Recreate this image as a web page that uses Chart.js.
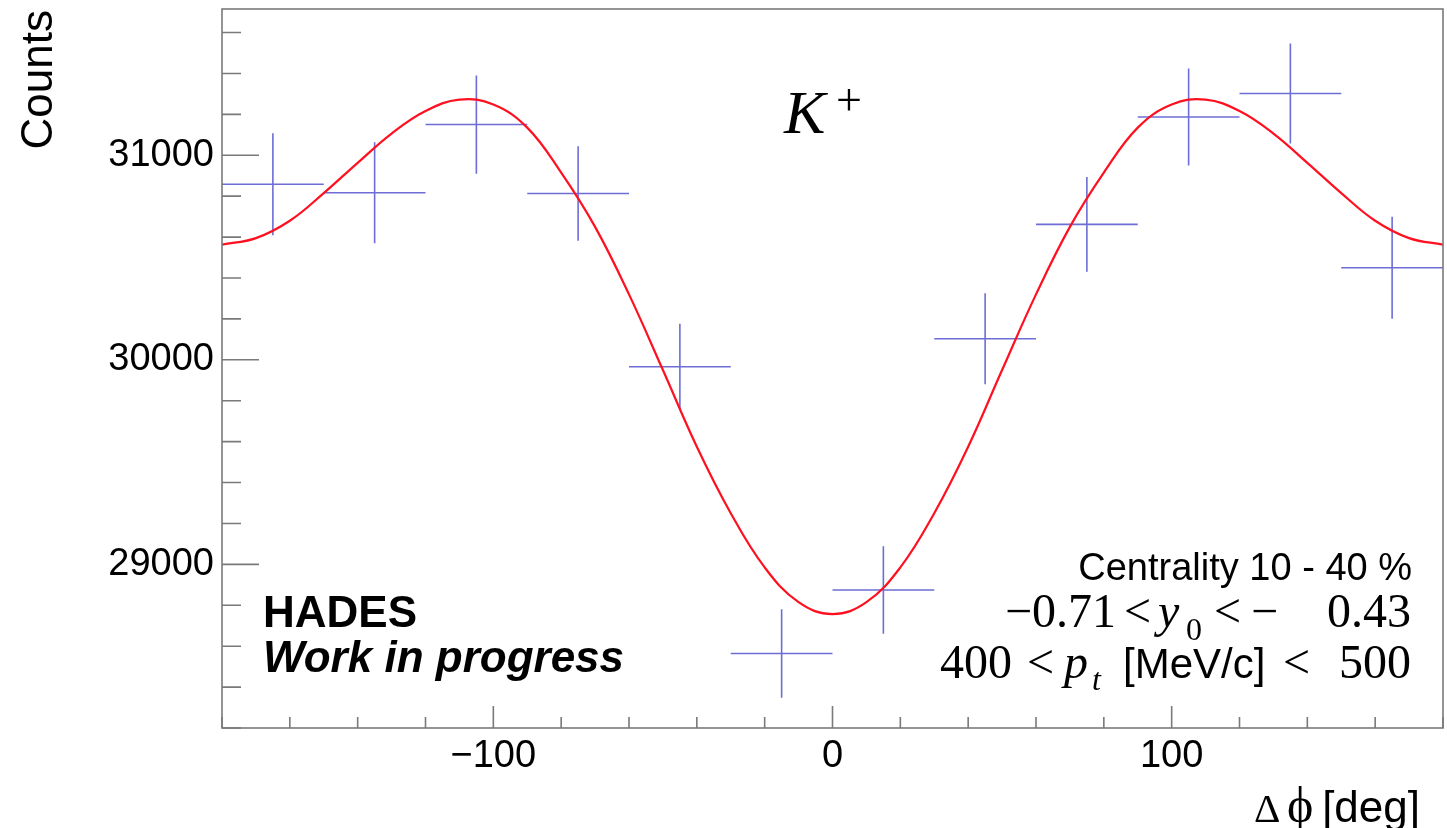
<!DOCTYPE html>
<html><head><meta charset="utf-8">
<script src="https://cdn.jsdelivr.net/npm/chart.js@4.4.1/dist/chart.umd.min.js"></script>
<style>html,body{margin:0;padding:0;background:#fff}#wrap{position:relative;width:1447px;height:828px}</style>
</head><body><div id="wrap"><canvas id="c"></canvas></div>
<script>
// ---- data ----
const binCenters  = [-165, -135, -105, -75, -45, -15, 15, 45, 75, 105, 135, 165];
const counts      = [30858, 30817, 31150, 30813, 29966, 28564, 28875, 30103, 30662, 31187, 31302, 30450];
const countErrors = [249, 247, 240, 231, 210, 216, 214, 222, 232, 237, 244, 249];
const binHalfWidth = 15;

const fitPhi    = [-180,-170,-160,-150,-140,-130,-120,-110,-100,-90,-80,-70,-60,-50,-40,-30,-20,-10,0,
                   10,20,30,40,50,60,70,80,90,100,110,120,130,140,150,160,170,180];
const fitCounts = [30563,30595,30680,30815,30963,31106,31216,31272,31248,31135,30915,30650,30320,29950,29575,29250,28985,28815,28757,
                   28815,28985,29250,29575,29950,30320,30650,30915,31135,31248,31272,31216,31106,30963,30815,30680,30595,30563];

const xTickValues = [-100, 0, 100];
const yTickValues = [29000, 30000, 31000];
const xMinorStep = 20;
const yMinorStep = 200;

const SANS = "'Liberation Sans', Arial, Helvetica, sans-serif";
const SERIF = "'Liberation Serif', 'DejaVu Serif', 'Times New Roman', serif";

const errorBars = {
  id: 'errorBars',
  beforeDatasetsDraw(chart) {
    const {ctx, scales: {x, y}} = chart;
    ctx.save();
    ctx.strokeStyle = 'rgba(30,30,190,0.65)';
    ctx.lineWidth = 1.6;
    for (let i = 0; i < binCenters.length; i++) {
      const cx = x.getPixelForValue(binCenters[i]);
      const cy = y.getPixelForValue(counts[i]);
      const xl = x.getPixelForValue(binCenters[i] - binHalfWidth);
      const xr = x.getPixelForValue(binCenters[i] + binHalfWidth);
      const yt = y.getPixelForValue(counts[i] + countErrors[i]);
      const yb = y.getPixelForValue(counts[i] - countErrors[i]);
      ctx.beginPath();
      ctx.moveTo(xl, cy); ctx.lineTo(xr, cy);
      ctx.moveTo(cx, yt); ctx.lineTo(cx, yb);
      ctx.stroke();
    }
    ctx.restore();
  }
};

const frameTicks = {
  id: 'frameTicks',
  afterDraw(chart) {
    const {ctx, chartArea: a, scales: {x, y}} = chart;
    ctx.save();
    ctx.strokeStyle = '#7a7a7a';
    ctx.lineWidth = 1.6;
    ctx.strokeRect(a.left, a.top, a.right - a.left, a.bottom - a.top);
    ctx.beginPath();
    for (let v = y.min; v <= y.max + 1e-6; v += yMinorStep) {
      const vv = Math.round(v);
      const py = y.getPixelForValue(vv);
      const len = (vv % 1000 === 0) ? 37 : 19;
      ctx.moveTo(a.left, py); ctx.lineTo(a.left + len, py);
    }
    for (let v = x.min; v <= x.max + 1e-6; v += xMinorStep) {
      const px = x.getPixelForValue(v);
      const len = (Math.round(v) % 100 === 0) ? 22 : 11;
      ctx.moveTo(px, a.bottom); ctx.lineTo(px, a.bottom - len);
    }
    ctx.stroke();
    ctx.restore();
  }
};

function seg(ctx, text, font, x, yb, align) {
  ctx.font = font; ctx.textAlign = align || 'left'; ctx.fillText(text, x, yb);
}

const texts = {
  id: 'texts',
  afterDraw(chart) {
    const ctx = chart.ctx;
    ctx.save();
    ctx.fillStyle = '#000';
    ctx.textBaseline = 'alphabetic';
    // y title
    ctx.save();
    ctx.translate(52, 10);
    ctx.rotate(-Math.PI / 2);
    seg(ctx, 'Counts', '44px ' + SANS, 0, 0, 'right');
    ctx.restore();
    // x title
    seg(ctx, '[deg]', '44px ' + SANS, 1420, 822, 'right');
    seg(ctx, 'ϕ', '50px ' + SERIF, 1287, 822, 'left');
    seg(ctx, 'Δ', '41px ' + SERIF, 1254, 822, 'left');
    // particle
    seg(ctx, 'K', 'italic 62px ' + SERIF, 784, 133, 'left');
    seg(ctx, '+', '46px ' + SERIF, 836, 115, 'left');
    // HADES label
    seg(ctx, 'HADES', 'bold 44px ' + SANS, 263, 627, 'left');
    seg(ctx, 'Work in progress', 'italic bold 44px ' + SANS, 263, 672, 'left');
    // cuts
    seg(ctx, 'Centrality 10 - 40 %', '38px ' + SANS, 1412, 580, 'right');
    const T = '48px ' + SERIF, TI = 'italic 48px ' + SERIF, TS = '32px ' + SERIF, TSI = 'italic 32px ' + SERIF;
    seg(ctx, '\u22120.71', T, 1005, 627);
    seg(ctx, '<', T, 1124, 627);
    seg(ctx, 'y', TI, 1158, 627);
    seg(ctx, '0', TS, 1186, 640);
    seg(ctx, '<', T, 1214, 627);
    seg(ctx, '\u2212', T, 1251, 627);
    seg(ctx, '0.43', T, 1411, 627, 'right');
    seg(ctx, '400', T, 940, 678);
    seg(ctx, '<', T, 1027, 678);
    seg(ctx, 'p', TI, 1064, 678);
    seg(ctx, 't', TSI, 1092, 690);
    seg(ctx, '[MeV/c]', '42px ' + SANS, 1123, 678);
    seg(ctx, '<', T, 1283, 678);
    seg(ctx, '500', T, 1411, 678, 'right');
    ctx.restore();
  }
};

const fmt = v => v < 0 ? '\u2212' + Math.abs(v) : String(v);

new Chart(document.getElementById('c'), {
  type: 'scatter',
  data: {
    datasets: [{
      label: 'fit',
      data: fitPhi.map((p, i) => ({x: p, y: fitCounts[i]})),
      showLine: true,
      borderColor: '#ff1020',
      borderWidth: 2.2,
      pointRadius: 0,
      tension: 0.4,
      fill: false
    }]
  },
  options: {
    responsive: true,
    maintainAspectRatio: false,
    animation: false,
    events: [],
    layout: {padding: {top: 9, right: 4, left: 0, bottom: 0}},
    plugins: {legend: {display: false}, tooltip: {enabled: false}, title: {display: false}},
    scales: {
      x: {
        type: 'linear', min: -180, max: 180,
        grid: {display: false, drawTicks: false},
        border: {display: false},
        afterBuildTicks: s => { s.ticks = xTickValues.map(v => ({value: v})); },
        afterFit: s => { s.height = 100; s.paddingLeft = 0; s.paddingRight = 0; },
        ticks: {color: '#000', font: {family: SANS, size: 38}, padding: 6, maxRotation: 0, autoSkip: false, callback: fmt}
      },
      y: {
        type: 'linear', min: 28200, max: 31715,
        grid: {display: false, drawTicks: false},
        border: {display: false},
        afterBuildTicks: s => { s.ticks = yTickValues.map(v => ({value: v})); },
        afterFit: s => { s.width = 222; s.paddingTop = 0; s.paddingBottom = 0; },
        ticks: {color: '#000', font: {family: SANS, size: 38}, padding: 8, autoSkip: false, callback: fmt}
      }
    }
  },
  plugins: [errorBars, frameTicks, texts]
});
</script>
</body></html>
